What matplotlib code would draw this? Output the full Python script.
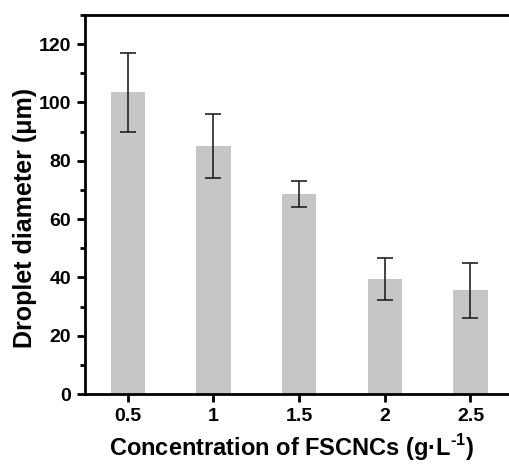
import matplotlib
matplotlib.use("Agg")
import matplotlib.pyplot as plt
from matplotlib.ticker import MultipleLocator

# Droplet diameter vs FSCNC concentration
conc = ["0.5", "1", "1.5", "2", "2.5"]
diameter = [103.5, 85.0, 68.7, 39.5, 35.6]
err = [13.5, 11.0, 4.4, 7.2, 9.4]

plt.rcParams["font.family"] = ["Liberation Sans", "DejaVu Sans"]
plt.rcParams["font.weight"] = "bold"
plt.rcParams["mathtext.fontset"] = "custom"
plt.rcParams["mathtext.rm"] = "Liberation Sans:bold"
plt.rcParams["mathtext.bf"] = "Liberation Sans:bold"

fig = plt.figure(figsize=(5.09, 4.68), dpi=100)
ax = fig.add_axes([0.167, 0.158, 0.86, 0.81])

x = range(len(conc))
ax.bar(x, diameter, width=0.4, color="#c6c6c6", zorder=1)
ax.errorbar(x, diameter, yerr=err, fmt="none", ecolor="#222222",
            elinewidth=1.2, capsize=6, capthick=1.2, zorder=2)

ax.set_xlim(-0.5, 4.61)
ax.set_ylim(0, 130)
ax.set_xticks(list(x))
ax.set_xticklabels(conc)
ax.yaxis.set_major_locator(MultipleLocator(20))
ax.yaxis.set_minor_locator(MultipleLocator(10))

for s in ["left", "bottom", "top", "right"]:
    ax.spines[s].set_linewidth(2)
ax.tick_params(axis="both", which="major", direction="out", length=6, width=2,
               labelsize=14, pad=4)
ax.tick_params(axis="y", which="minor", direction="out", length=3.5, width=2)
for lbl in ax.get_xticklabels() + ax.get_yticklabels():
    lbl.set_fontweight("bold")

ax.set_ylabel("Droplet diameter (μm)", fontsize=18, fontweight="bold")
ax.yaxis.set_label_coords(-0.11, 0.465)
ax.set_xlabel(r"Concentration of FSCNCs (g·L$^{\text{-1}}$)", fontsize=17,
              fontweight="bold")
ax.xaxis.set_label_coords(0.473, -0.1)

fig.savefig("out.png", dpi=100)
